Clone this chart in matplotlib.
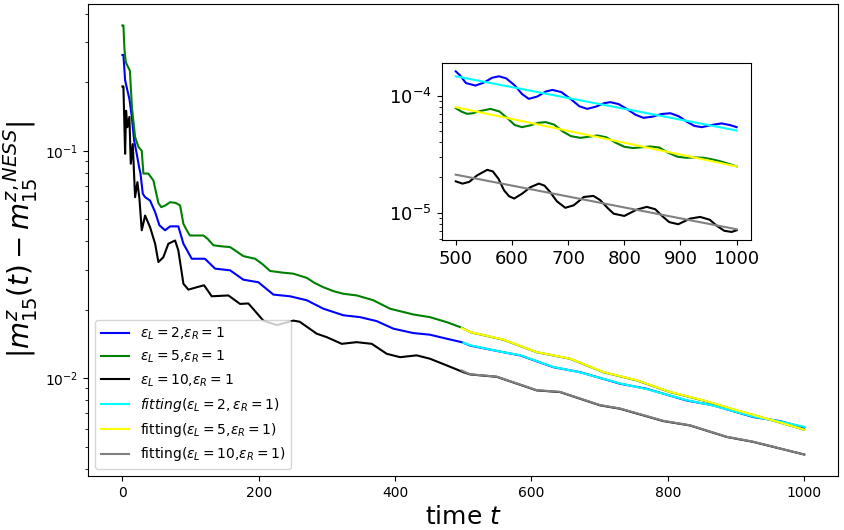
import numpy as np
import matplotlib
matplotlib.use("Agg")
import matplotlib.pyplot as plt
from matplotlib.ticker import MultipleLocator

# ---- data (main panel) ----
t_2 = [0, 1.5, 4, 7.4, 10.3, 13.8, 17.2, 21, 25, 26.6, 29.9, 33.3, 40.6, 48, 54.3, 62.6, 70, 82,
       89.5, 101.7, 121, 136, 157.9, 177.4, 199.4, 221.4, 245.9, 270.4, 294.7, 324, 348.6, 373,
       397.4, 426.7, 451, 475.7, 497.6, 509.8, 558.7, 583, 632, 671, 729.8, 768.5, 827.5, 866.6,
       925.2, 964.3, 1000]
m_2 = [0.264, 0.264, 0.204, 0.184, 0.169, 0.141, 0.111, 0.0970, 0.0833, 0.0792, 0.0647, 0.0625,
       0.0604, 0.0537, 0.0470, 0.0447, 0.0465, 0.0465, 0.0390, 0.0335, 0.0335, 0.0303, 0.0298,
       0.0271, 0.0264, 0.0233, 0.0229, 0.0220, 0.0202, 0.0189, 0.01854, 0.01781, 0.0165, 0.01578,
       0.01552, 0.01490, 0.01439, 0.01390, 0.0130, 0.01259, 0.01117, 0.01062, 0.00945, 0.00898,
       0.00797, 0.00759, 0.00674, 0.00647, 0.00605]

t_5 = [0, 1.5, 3, 5, 11, 14, 18.6, 23.5, 28.4, 30.8, 38, 45.5, 52.8, 57, 62.6, 70, 78, 84.6, 89.5,
       94.4, 99, 106.6, 118.8, 125, 133.4, 145, 157.9, 165, 177.4, 194.6, 205, 216.6, 235, 250.7,
       270.4, 282, 294.7, 310, 324, 343.7, 368, 392.5, 410, 426.7, 451, 475.7, 497.6, 509.8, 558.7,
       607.6, 656.5, 705.3, 754.2, 803, 851.9, 900.9, 949.7, 1000]
m_5 = [0.356, 0.356, 0.28, 0.245, 0.225, 0.155, 0.115, 0.104, 0.100, 0.0794, 0.0794, 0.0740,
       0.0589, 0.0565, 0.0574, 0.0594, 0.0590, 0.0575, 0.0477, 0.0447, 0.0424, 0.0424, 0.0424,
       0.0410, 0.0384, 0.0380, 0.0377, 0.0365, 0.0344, 0.0335, 0.0318, 0.0296, 0.0291, 0.0288,
       0.0276, 0.0262, 0.0251, 0.0241, 0.0235, 0.0231, 0.0220, 0.0202, 0.0196, 0.01905, 0.01854,
       0.01762, 0.01667, 0.01593, 0.01475, 0.01300, 0.01216, 0.01062, 0.00977, 0.00868, 0.00797,
       0.00721, 0.00656, 0.00593]

t_10 = [0, 1.5, 4, 5.4, 7.4, 10.3, 12.3, 15.2, 18.6, 22, 25, 28.4, 33.3, 40.6, 48, 52.8, 60, 67.4,
        77.3, 82, 89.5, 96.8, 109, 119.8, 131, 155.4, 172.6, 184.8, 206.7, 226.4, 250.7, 260, 285,
        299.7, 321.7, 343.7, 365.7, 387.7, 407.2, 431.6, 451, 475.7, 500, 509.8, 549, 607.6, 641.8,
        700.4, 729.8, 793.3, 832.4, 886.2, 925.2, 1000]
m_10 = [0.192, 0.192, 0.0970, 0.150, 0.127, 0.141, 0.0877, 0.107, 0.0625, 0.0728, 0.0615, 0.0447,
        0.0519, 0.0461, 0.0390, 0.0324, 0.0340, 0.0390, 0.0403, 0.0365, 0.0260, 0.0245, 0.0251,
        0.0256, 0.0229, 0.0231, 0.0212, 0.0213, 0.0179, 0.0171, 0.0179, 0.0177, 0.01568, 0.01514,
        0.01415, 0.01439, 0.01415, 0.01279, 0.01236, 0.01259, 0.01217, 0.01137, 0.01062, 0.01038,
        0.01013, 0.00883, 0.00868, 0.00759, 0.00733, 0.00647, 0.00619, 0.00551, 0.00524, 0.00461]

# fitted curves drawn over the tail (t >= 500)
tf_2 = [500, 509.8, 558.7, 583, 632, 671, 729.8, 768.5, 827.5, 866.6, 925.2, 964.3, 1000]
fit_2 = [0.01430, 0.01395, 0.0130, 0.01262, 0.01120, 0.01060, 0.00948, 0.00895, 0.00800, 0.00757,
         0.00677, 0.00645, 0.00610]
tf_5 = [497.6, 509.8, 558.7, 607.6, 656.5, 705.3, 754.2, 803, 851.9, 900.9, 949.7, 1000]
fit_5 = [0.0166, 0.01595, 0.01478, 0.01302, 0.01218, 0.01064, 0.00979, 0.00870, 0.00799, 0.00723,
         0.00657, 0.00593]
tf_10 = [497.6, 509.8, 549, 607.6, 641.8, 700.4, 729.8, 793.3, 832.4, 886.2, 925.2, 1000]
fit_10 = [0.0108, 0.01040, 0.01015, 0.00885, 0.00870, 0.00761, 0.00735, 0.00649, 0.00620, 0.00552,
          0.00525, 0.00461]

# ---- inset data ----
ti_2 = [500, 508, 518, 535, 550, 565, 577, 590, 605, 618, 630, 645, 660, 672, 688, 705, 720, 734,
        750, 764, 775, 790, 806, 820, 834, 850, 866, 882, 897, 912, 925, 938, 955, 973, 988, 1000]
mi_2 = [1.61e-4, 1.48e-4, 1.28e-4, 1.216e-4, 1.29e-4, 1.42e-4, 1.46e-4, 1.40e-4, 1.22e-4, 1.03e-4,
        9.37e-5, 9.8e-5, 1.08e-4, 1.117e-4, 1.07e-4, 9.3e-5, 8.1e-5, 7.69e-5, 8.05e-5, 8.6e-5,
        8.78e-5, 8.45e-5, 7.6e-5, 6.85e-5, 6.45e-5, 6.6e-5, 6.95e-5, 7.06e-5, 6.65e-5, 5.95e-5,
        5.5e-5, 5.37e-5, 5.6e-5, 5.78e-5, 5.6e-5, 5.37e-5]
ti_5 = [500, 510, 520, 530, 545, 562, 578, 592, 605, 618, 632, 647, 660, 675, 690, 705, 722, 737,
        752, 768, 785, 800, 816, 832, 846, 862, 878, 895, 911, 926, 941, 955, 970, 985, 1000]
mi_5 = [7.80e-5, 7.3e-5, 6.98e-5, 7.05e-5, 7.4e-5, 7.69e-5, 7.3e-5, 6.4e-5, 5.6e-5, 5.37e-5,
        5.55e-5, 5.85e-5, 5.93e-5, 5.65e-5, 4.95e-5, 4.5e-5, 4.35e-5, 4.45e-5, 4.56e-5, 4.4e-5,
        3.95e-5, 3.65e-5, 3.56e-5, 3.62e-5, 3.67e-5, 3.6e-5, 3.25e-5, 3.0e-5, 2.94e-5, 2.96e-5,
        2.94e-5, 2.86e-5, 2.75e-5, 2.62e-5, 2.48e-5]
ti_10 = [500, 512, 524, 538, 556, 566, 576, 586, 595, 604, 618, 633, 648, 658, 668, 680, 695, 710,
         728, 745, 757, 770, 781, 800, 822, 840, 855, 868, 880, 896, 917, 935, 952, 965, 978, 991,
         1000]
mi_10 = [1.85e-5, 1.77e-5, 1.83e-5, 2.08e-5, 2.32e-5, 2.25e-5, 1.95e-5, 1.55e-5, 1.38e-5, 1.32e-5,
         1.45e-5, 1.65e-5, 1.77e-5, 1.7e-5, 1.5e-5, 1.25e-5, 1.10e-5, 1.155e-5, 1.36e-5, 1.39e-5,
         1.28e-5, 1.1e-5, 9.8e-6, 9.37e-6, 1.06e-5, 1.12e-5, 1.07e-5, 9.3e-6, 8.3e-6, 7.96e-6,
         8.89e-6, 9.19e-6, 8.7e-6, 7.7e-6, 7.0e-6, 6.84e-6, 7.07e-6]
tfi = [500, 1000]
fiti_2 = [1.46e-4, 5.03e-5]
fiti_5 = [7.96e-5, 2.48e-5]
fiti_10 = [2.11e-5, 7.21e-6]

fig = plt.figure(figsize=(8.45, 5.3), dpi=100)
ax = fig.add_axes([0.1045, 0.1019, 0.8876, 0.8906])

ax.plot(t_2, m_2, color='blue', label=r'$\epsilon_L=2$,$\epsilon_R=1$')
ax.plot(t_5, m_5, color='green', label=r'$\epsilon_L=5$,$\epsilon_R=1$')
ax.plot(t_10, m_10, color='black', label=r'$\epsilon_L=10$,$\epsilon_R=1$')
ax.plot(tf_2, fit_2, color='cyan', label=r'$fitting(\epsilon_L=2,\epsilon_R=1)$')
ax.plot(tf_5, fit_5, color='yellow', label=r'fitting($\epsilon_L=5$,$\epsilon_R=1$)')
ax.plot(tf_10, fit_10, color='gray', label=r'fitting($\epsilon_L=10$,$\epsilon_R=1$)')
ax.set_yscale('log')
ax.set_xlabel(r'time $t$', fontsize=18)
ax.set_ylabel(r'$|m_{15}^z(t)-m_{15}^{z,NESS}|$', fontsize=20)
ax.legend(loc='lower left', fontsize=10)

# inset: zoom on the tail
axi = fig.add_axes([0.5227, 0.5472, 0.3657, 0.3334])
axi.plot(ti_2, mi_2, color='blue')
axi.plot(ti_5, mi_5, color='green')
axi.plot(ti_10, mi_10, color='black')
axi.plot(tfi, fiti_2, color='cyan')
axi.plot(tfi, fiti_5, color='yellow')
axi.plot(tfi, fiti_10, color='gray')
axi.set_yscale('log')
axi.xaxis.set_major_locator(MultipleLocator(100))
axi.tick_params(labelsize=13)

plt.savefig('out.png', dpi=100)
